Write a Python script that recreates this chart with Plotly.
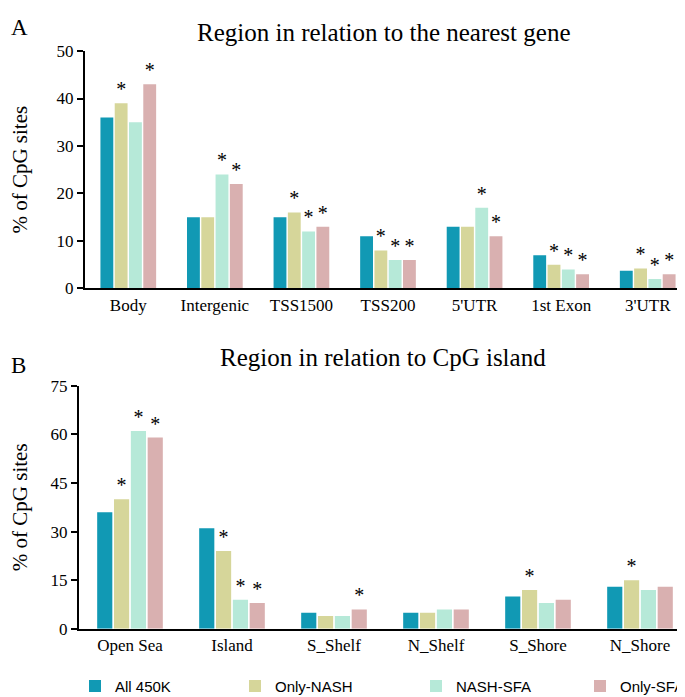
import plotly.graph_objects as go

series = ["All 450K", "Only-NASH", "NASH-SFA", "Only-SFA"]
colors = ["#1199B4", "#D6D69A", "#B6E9D8", "#D9B0B0"]

# Panel A: region in relation to the nearest gene
cats_a = ["Body", "Intergenic", "TSS1500", "TSS200", "5'UTR", "1st Exon", "3'UTR"]
all450k_a = [36, 15, 15, 11, 13, 7, 3.7]
onlynash_a = [39, 15, 16, 8, 13, 5, 4.2]
nashsfa_a = [35, 24, 12, 6, 17, 4, 2]
onlysfa_a = [43, 22, 13, 6, 11, 3, 3]
sig_a = [
    [0, 0, 0, 0, 0, 0, 0],
    [1, 0, 1, 1, 0, 1, 1],
    [0, 1, 1, 1, 1, 1, 1],
    [1, 1, 1, 1, 1, 1, 1],
]

# Panel B: region in relation to CpG island
cats_b = ["Open Sea", "Island", "S_Shelf", "N_Shelf", "S_Shore", "N_Shore"]
all450k_b = [36, 31, 5, 5, 10, 13]
onlynash_b = [40, 24, 4, 5, 12, 15]
nashsfa_b = [61, 9, 4, 6, 8, 12]
onlysfa_b = [59, 8, 6, 6, 9, 13]
sig_b = [
    [0, 0, 0, 0, 0, 0],
    [1, 1, 0, 0, 1, 1],
    [1, 1, 0, 0, 0, 0],
    [1, 1, 1, 0, 0, 0],
]

vals_a = [all450k_a, onlynash_a, nashsfa_a, onlysfa_a]
vals_b = [all450k_b, onlynash_b, nashsfa_b, onlysfa_b]

W, H = 685, 697
serif = "Liberation Serif"
sans = "Liberation Sans"

fig = go.Figure()
legend_names = ["legend", "legend2", "legend3", "legend4"]
for i, name in enumerate(series):
    fig.add_trace(go.Bar(
        x=cats_a, y=vals_a[i], name=name, marker=dict(color=colors[i], line=dict(width=0)),
        text=["*" if s else "" for s in sig_a[i]], textposition="outside",
        textfont=dict(family=serif, size=20, color="black"), constraintext="none",
        cliponaxis=False, xaxis="x", yaxis="y", legend=legend_names[i], showlegend=True,
        hoverinfo="x+y+name",
    ))
for i, name in enumerate(series):
    fig.add_trace(go.Bar(
        x=cats_b, y=vals_b[i], name=name, marker=dict(color=colors[i], line=dict(width=0)),
        text=["*" if s else "" for s in sig_b[i]], textposition="outside",
        textfont=dict(family=serif, size=20, color="black"), constraintext="none",
        cliponaxis=False, xaxis="x2", yaxis="y2", showlegend=False,
        hoverinfo="x+y+name",
    ))

def px_x(p):
    return p / W

def px_y(p):
    return 1 - p / H

axis_common = dict(showline=True, linecolor="black", linewidth=2, showgrid=False, zeroline=False,
                   tickfont=dict(family=serif, size=17, color="black"))

layout = dict(
    width=W, height=H, margin=dict(l=0, r=0, t=0, b=0),
    paper_bgcolor="white", plot_bgcolor="white",
    barmode="group", bargap=0.34, bargroupgap=0.1,
    xaxis=dict(domain=[px_x(77), px_x(683)], anchor="y", ticks="", **axis_common),
    yaxis=dict(domain=[px_y(279), px_y(35)], anchor="x", range=[0, 50], dtick=10,
               ticks="outside", ticklen=6, tickwidth=2, tickcolor="black",
               title=dict(text="% of CpG sites", font=dict(family=serif, size=21, color="black"), standoff=24),
               **axis_common),
    xaxis2=dict(domain=[px_x(71), px_x(683)], anchor="y2", ticks="", **axis_common),
    yaxis2=dict(domain=[px_y(629), px_y(379)], anchor="x2", range=[0, 75], dtick=15,
                ticks="outside", ticklen=6, tickwidth=2, tickcolor="black",
                title=dict(text="% of CpG sites", font=dict(family=serif, size=21, color="black"), standoff=19),
                **axis_common),
    annotations=[
        dict(text="Region in relation to the nearest gene", x=px_x(376), y=px_y(16), xref="paper", yref="paper",
             showarrow=False, xanchor="center", yanchor="middle", font=dict(family=serif, size=25, color="black")),
        dict(text="Region in relation to CpG island", x=px_x(375), y=px_y(350), xref="paper", yref="paper",
             showarrow=False, xanchor="center", yanchor="middle", font=dict(family=serif, size=25, color="black")),
        dict(text="A", x=px_x(1), y=px_y(11), xref="paper", yref="paper", showarrow=False,
             xanchor="left", yanchor="middle", font=dict(family=serif, size=23, color="black")),
        dict(text="B", x=px_x(1), y=px_y(358), xref="paper", yref="paper", showarrow=False,
             xanchor="left", yanchor="middle", font=dict(family=serif, size=23, color="black")),
    ],
)
text_starts = [107, 267, 448, 612]
for lname, ts in zip(legend_names, text_starts):
    layout[lname] = dict(x=px_x(ts - 40), y=px_y(688), xanchor="left", yanchor="middle",
                         orientation="v", bgcolor="rgba(0,0,0,0)", borderwidth=0,
                         font=dict(family=sans, size=15, color="black"))
fig.update_layout(**layout)
fig.write_html("out.html")
